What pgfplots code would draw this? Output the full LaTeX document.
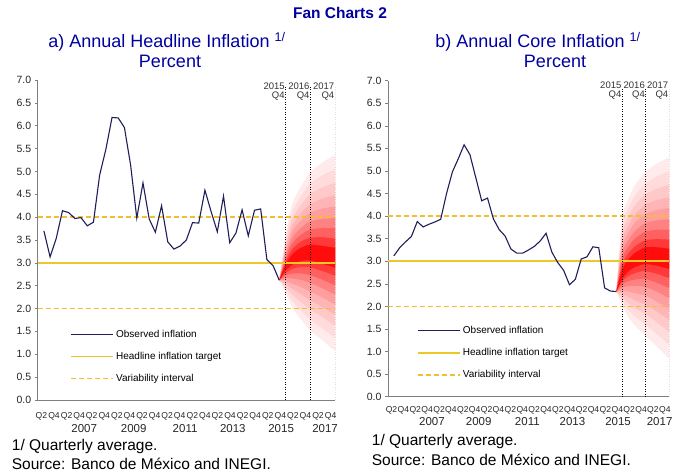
\documentclass[border=0pt]{standalone}
\usepackage{fontspec}
\setmainfont{Liberation Sans}
\usepackage{pgfplots}
\pgfplotsset{compat=1.18}
\usepackage{pgfplotstable}

\definecolor{navyline}{RGB}{30,30,90}
\definecolor{gold}{RGB}{235,200,40}
\definecolor{golddash}{RGB}{240,192,50}
\definecolor{titleblue}{RGB}{0,0,160}
\definecolor{axisgray}{RGB}{128,128,128}
\colorlet{fan1}{red!8}
\colorlet{fan2}{red!14}
\colorlet{fan3}{red!21}
\colorlet{fan4}{red!29}
\colorlet{fan5}{red!38}
\colorlet{fan6}{red!49}
\colorlet{fan7}{red!62}
\colorlet{fan8}{red!78}
\colorlet{fan9}{red!95}

% observed headline inflation, 2006Q1 (k=0) ... 2015Q3 (k=38)
\pgfplotstableread{
k v
0 3.70
1 3.13
2 3.54
3 4.14
4 4.10
5 3.97
6 3.99
7 3.81
8 3.89
9 4.92
10 5.48
11 6.18
12 6.17
13 5.96
14 5.14
15 3.98
16 4.75
17 3.96
18 3.67
19 4.25
20 3.46
21 3.30
22 3.37
23 3.50
24 3.88
25 3.87
26 4.59
27 4.12
28 3.68
29 4.46
30 3.44
31 3.65
32 4.16
33 3.59
34 4.15
35 4.18
36 3.07
37 2.94
38 2.62
}\headline

% observed core inflation
\pgfplotstableread{
k v
0 3.12
1 3.30
2 3.43
3 3.55
4 3.88
5 3.76
6 3.82
7 3.87
8 3.93
9 4.50
10 4.98
11 5.27
12 5.58
13 5.36
14 4.85
15 4.34
16 4.40
17 3.94
18 3.70
19 3.56
20 3.27
21 3.18
22 3.18
23 3.25
24 3.33
25 3.45
26 3.62
27 3.20
28 2.97
29 2.80
30 2.48
31 2.60
32 3.05
33 3.10
34 3.32
35 3.30
36 2.41
37 2.34
38 2.33
}\core

\pgfplotsset{
  fanaxis/.style={
    scale only axis,
    xmin=-1, xmax=47, ymin=0, ymax=7,
    axis lines*=left,
    axis line style={axisgray, line width=0.6pt},
    /pgf/number format/assume math mode=true,
    ytick={0,0.5,1,1.5,2,2.5,3,3.5,4,4.5,5,5.5,6,6.5,7},
    yticklabel style={font=\fontsize{10.5}{12}\selectfont, text=black!85,
      /pgf/number format/.cd, fixed, fixed zerofill, precision=1},
    tick align=outside,
    major tick length=3pt,
    ytick style={axisgray, line width=0.5pt},
    xtick={-0.4,1.63,3.66,5.69,7.72,9.75,11.78,13.81,15.84,17.87,19.9,21.93,23.96,25.99,28.02,30.05,32.08,34.11,36.14,38.17,40.2,42.23,44.26,46.29},
    xticklabels={Q2,Q4,Q2,Q4,Q2,Q4,Q2,Q4,Q2,Q4,Q2,Q4,Q2,Q4,Q2,Q4,Q2,Q4,Q2,Q4,Q2,Q4,Q2,Q4},
    xtick style={draw=none},
    extra x ticks={6.5,14.5,22.8,30.5,38.3,45.4},
    extra x tick labels={2007,2009,2011,2013,2015,2017},
    legend style={draw=none, fill=none, anchor=north west,
      font=\fontsize{10}{12}\selectfont, row sep=9.5pt, inner sep=0pt,
      cells={anchor=west}},
    legend image code/.code={\draw[##1] (0pt,0pt) -- (42pt,0pt);},
    band/.style={fill=##1, draw=none, smooth, forget plot},
  }
}

\begin{document}
\begin{tikzpicture}
\path[use as bounding box] (0,0) rectangle (679pt,473pt);

% ---------------- left panel ----------------
\begin{axis}[fanaxis,
  at={(37.7pt,73pt)}, anchor=south west, width=297.3pt, height=320pt,
  xticklabel style={font=\fontsize{8.6}{9}\selectfont, text=black!85, anchor=base, yshift=-16pt},
  extra x tick style={xticklabel style={font=\fontsize{11.5}{13}\selectfont, anchor=base, yshift=-13.5pt}},
  legend style={at={(0.109,0.226)}},
]
\addlegendimage{navyline, line width=1pt}
\addlegendentry{Observed inflation}
\addlegendimage{gold, line width=1.8pt}
\addlegendentry{Headline inflation target}
\addlegendimage{golddash, line width=1.5pt, dash pattern=on 5pt off 3pt}
\addlegendentry{Variability interval}

% fan bands (outer to inner): upper edge forward, lower edge back
\addplot[band=fan1] coordinates {(38,2.62) (39,3.60) (40,4.25) (41,4.55) (42,4.78) (43,4.98) (45,5.20) (47,5.36) (47.6,5.36) (47.6,1.08) (47,1.08) (45,1.30) (43,1.52) (42,1.68) (41,1.85) (40,2.05) (39,2.35)};
\addplot[band=fan2] coordinates {(38,2.62) (39,3.50) (40,4.08) (41,4.35) (42,4.56) (43,4.73) (45,4.92) (47,5.04) (47.6,5.04) (47.6,1.36) (47,1.36) (45,1.56) (43,1.76) (42,1.89) (41,2.03) (40,2.19) (39,2.42)};
\addplot[band=fan3] coordinates {(38,2.62) (39,3.41) (40,3.93) (41,4.17) (42,4.35) (43,4.51) (45,4.65) (47,4.75) (47.6,4.75) (47.6,1.63) (47,1.63) (45,1.81) (43,1.98) (42,2.09) (41,2.20) (40,2.32) (39,2.49)};
\addplot[band=fan4] coordinates {(38,2.62) (39,3.32) (40,3.78) (41,4.00) (42,4.16) (43,4.29) (45,4.41) (47,4.48) (47.6,4.48) (47.6,1.87) (47,1.87) (45,2.03) (43,2.18) (42,2.27) (41,2.36) (40,2.44) (39,2.56)};
\addplot[band=fan5] coordinates {(38,2.62) (39,3.24) (40,3.65) (41,3.85) (42,3.99) (43,4.10) (45,4.19) (47,4.23) (47.6,4.23) (47.6,2.09) (47,2.09) (45,2.24) (43,2.37) (42,2.44) (41,2.50) (40,2.55) (39,2.62)};
\addplot[band=fan6] coordinates {(38,2.62) (39,3.16) (40,3.52) (41,3.70) (42,3.82) (43,3.91) (45,3.96) (47,3.98) (47.6,3.98) (47.6,2.31) (47,2.31) (45,2.44) (43,2.56) (42,2.61) (41,2.64) (40,2.66) (39,2.67)};
\addplot[band=fan7] coordinates {(38,2.62) (39,3.09) (40,3.40) (41,3.56) (42,3.66) (43,3.73) (45,3.76) (47,3.76) (47.6,3.76) (47.6,2.51) (47,2.51) (45,2.63) (43,2.73) (42,2.76) (41,2.77) (40,2.76) (39,2.73)};
\addplot[band=fan8] coordinates {(38,2.62) (39,3.02) (40,3.28) (41,3.42) (42,3.50) (43,3.55) (45,3.56) (47,3.53) (47.6,3.53) (47.6,2.72) (47,2.72) (45,2.82) (43,2.90) (42,2.91) (41,2.90) (40,2.86) (39,2.78)};
\addplot[band=fan9] coordinates {(38,2.62) (39,2.95) (40,3.17) (41,3.29) (42,3.36) (43,3.40) (45,3.37) (47,3.33) (47.6,3.33) (47.6,2.90) (47,2.90) (45,2.98) (43,3.05) (42,3.05) (41,3.02) (40,2.95) (39,2.83)};

\addplot[gold, line width=1.8pt, forget plot] coordinates {(-1,3) (47,3)};
\addplot[golddash, line width=1.5pt, dash pattern=on 5pt off 3pt, forget plot] coordinates {(-1,4) (47,4)};
\addplot[golddash, line width=1.5pt, dash pattern=on 5pt off 3pt, forget plot] coordinates {(-1,2) (47,2)};
\addplot[black, dotted, line width=0.5pt, forget plot] coordinates {(39,0) (39,6.85)};
\addplot[black, dotted, line width=0.5pt, forget plot] coordinates {(43,0) (43,6.85)};
\addplot[black, dotted, line width=0.5pt, forget plot] coordinates {(47,0) (47,6.85)};
\addplot[navyline, line width=1.1pt, forget plot] table[x=k, y=v]{\headline};
\begin{scope}[every node/.style={font=\fontsize{9.5}{11}\selectfont, text=black!80, inner sep=0.6pt}]
\node[anchor=base east] at (axis cs:39,6.80) {2015};
\node[anchor=base east] at (axis cs:39,6.59) {Q4};
\node[anchor=base east] at (axis cs:43,6.80) {2016};
\node[anchor=base east] at (axis cs:43,6.59) {Q4};
\node[anchor=base east] at (axis cs:47,6.80) {2017};
\node[anchor=base east] at (axis cs:47,6.59) {Q4};
\end{scope}
\end{axis}

% ---------------- right panel ----------------
\begin{axis}[fanaxis,
  at={(388pt,76.3pt)}, anchor=south west, width=281pt, height=316pt,
  xticklabel style={font=\fontsize{8.6}{9}\selectfont, text=black!85, anchor=base, yshift=-13pt},
  extra x tick style={xticklabel style={font=\fontsize{11.5}{13}\selectfont, anchor=base, yshift=-13pt}},
  legend style={at={(0.103,0.230)}},
]
\addlegendimage{navyline, line width=1pt}
\addlegendentry{Observed inflation}
\addlegendimage{gold, line width=1.8pt}
\addlegendentry{Headline inflation target}
\addlegendimage{golddash, line width=1.5pt, dash pattern=on 5pt off 3pt}
\addlegendentry{Variability interval}

\addplot[band=fan1] coordinates {(38,2.33) (39,3.95) (40,4.36) (41,4.65) (42,4.83) (43,4.98) (45,5.17) (47,5.30) (47.6,5.30) (47.6,0.85) (47,0.85) (45,1.10) (43,1.35) (42,1.47) (41,1.60) (40,1.78) (39,2.02)};
\addplot[band=fan2] coordinates {(38,2.33) (39,3.77) (40,4.15) (41,4.42) (42,4.58) (43,4.72) (45,4.88) (47,4.99) (47.6,4.99) (47.6,1.16) (47,1.16) (45,1.38) (43,1.60) (42,1.69) (41,1.80) (40,1.93) (39,2.11)};
\addplot[band=fan3] coordinates {(38,2.33) (39,3.61) (40,3.96) (41,4.21) (42,4.36) (43,4.48) (45,4.61) (47,4.69) (47.6,4.69) (47.6,1.44) (47,1.44) (45,1.64) (43,1.83) (42,1.90) (41,1.98) (40,2.08) (39,2.20)};
\addplot[band=fan4] coordinates {(38,2.33) (39,3.46) (40,3.78) (41,4.01) (42,4.14) (43,4.26) (45,4.36) (47,4.42) (47.6,4.42) (47.6,1.71) (47,1.71) (45,1.88) (43,2.04) (42,2.09) (41,2.15) (40,2.21) (39,2.28)};
\addplot[band=fan5] coordinates {(38,2.33) (39,3.32) (40,3.62) (41,3.83) (42,3.95) (43,4.05) (45,4.14) (47,4.18) (47.6,4.18) (47.6,1.95) (47,1.95) (45,2.10) (43,2.24) (42,2.27) (41,2.30) (40,2.33) (39,2.35)};
\addplot[band=fan6] coordinates {(38,2.33) (39,3.18) (40,3.46) (41,3.64) (42,3.76) (43,3.85) (45,3.91) (47,3.93) (47.6,3.93) (47.6,2.19) (47,2.19) (45,2.32) (43,2.43) (42,2.45) (41,2.45) (40,2.45) (39,2.42)};
\addplot[band=fan7] coordinates {(38,2.33) (39,3.05) (40,3.31) (41,3.48) (42,3.58) (43,3.66) (45,3.70) (47,3.70) (47.6,3.70) (47.6,2.41) (47,2.41) (45,2.52) (43,2.61) (42,2.61) (41,2.59) (40,2.56) (39,2.49)};
\addplot[band=fan8] coordinates {(38,2.33) (39,2.92) (40,3.16) (41,3.31) (42,3.40) (43,3.47) (45,3.49) (47,3.48) (47.6,3.48) (47.6,2.63) (47,2.63) (45,2.72) (43,2.78) (42,2.77) (41,2.73) (40,2.67) (39,2.56)};
\addplot[band=fan9] coordinates {(38,2.33) (39,2.81) (40,3.03) (41,3.17) (42,3.25) (43,3.31) (45,3.31) (47,3.28) (47.6,3.28) (47.6,2.83) (47,2.83) (45,2.90) (43,2.94) (42,2.91) (41,2.86) (40,2.77) (39,2.61)};

\addplot[gold, line width=1.8pt, forget plot] coordinates {(-1,3) (47,3)};
\addplot[golddash, line width=1.5pt, dash pattern=on 5pt off 3pt, forget plot] coordinates {(-1,4) (47,4)};
\addplot[golddash, line width=1.5pt, dash pattern=on 5pt off 3pt, forget plot] coordinates {(-1,2) (47,2)};
\addplot[black, dotted, line width=0.5pt, forget plot] coordinates {(39,0) (39,6.85)};
\addplot[black, dotted, line width=0.5pt, forget plot] coordinates {(43,0) (43,6.85)};
\addplot[black, dotted, line width=0.5pt, forget plot] coordinates {(47,0) (47,6.85)};
\addplot[navyline, line width=1.1pt, forget plot] table[x=k, y=v]{\core};
\begin{scope}[every node/.style={font=\fontsize{9.5}{11}\selectfont, text=black!80, inner sep=0.6pt}]
\node[anchor=base east] at (axis cs:39,6.83) {2015};
\node[anchor=base east] at (axis cs:39,6.62) {Q4};
\node[anchor=base east] at (axis cs:43,6.83) {2016};
\node[anchor=base east] at (axis cs:43,6.62) {Q4};
\node[anchor=base east] at (axis cs:47,6.83) {2017};
\node[anchor=base east] at (axis cs:47,6.62) {Q4};
\end{scope}
\end{axis}

% ---------------- titles and notes ----------------
\node[anchor=base, font=\bfseries\fontsize{15.5}{18}\selectfont, text=titleblue, inner sep=0pt] at (340pt,454pt) {Fan Charts 2};
\node[anchor=base, font=\fontsize{18}{21}\selectfont, text=titleblue, inner sep=0pt] at (167pt,425.5pt) {a) Annual Headline Inflation \textsuperscript{1/}};
\node[anchor=base, font=\fontsize{18}{21}\selectfont, text=titleblue, inner sep=0pt] at (170pt,405pt) {Percent};
\node[anchor=base, font=\fontsize{18}{21}\selectfont, text=titleblue, inner sep=0pt] at (538pt,425.5pt) {b) Annual Core Inflation \textsuperscript{1/}};
\node[anchor=base, font=\fontsize{18}{21}\selectfont, text=titleblue, inner sep=0pt] at (555pt,405pt) {Percent};

\node[anchor=base west, font=\fontsize{15.5}{18}\selectfont, inner sep=0pt] at (11.7pt,22pt) {1/ Quarterly average.};
\node[anchor=base west, font=\fontsize{15.5}{18}\selectfont, inner sep=0pt] at (11.7pt,3pt) {Source: Banco de México and INEGI.};
\node[anchor=base west, font=\fontsize{15.5}{18}\selectfont, inner sep=0pt] at (371.7pt,27.5pt) {1/ Quarterly average.};
\node[anchor=base west, font=\fontsize{15.5}{18}\selectfont, inner sep=0pt] at (371.7pt,7.5pt) {Source: Banco de México and INEGI.};
\end{tikzpicture}
\end{document}
